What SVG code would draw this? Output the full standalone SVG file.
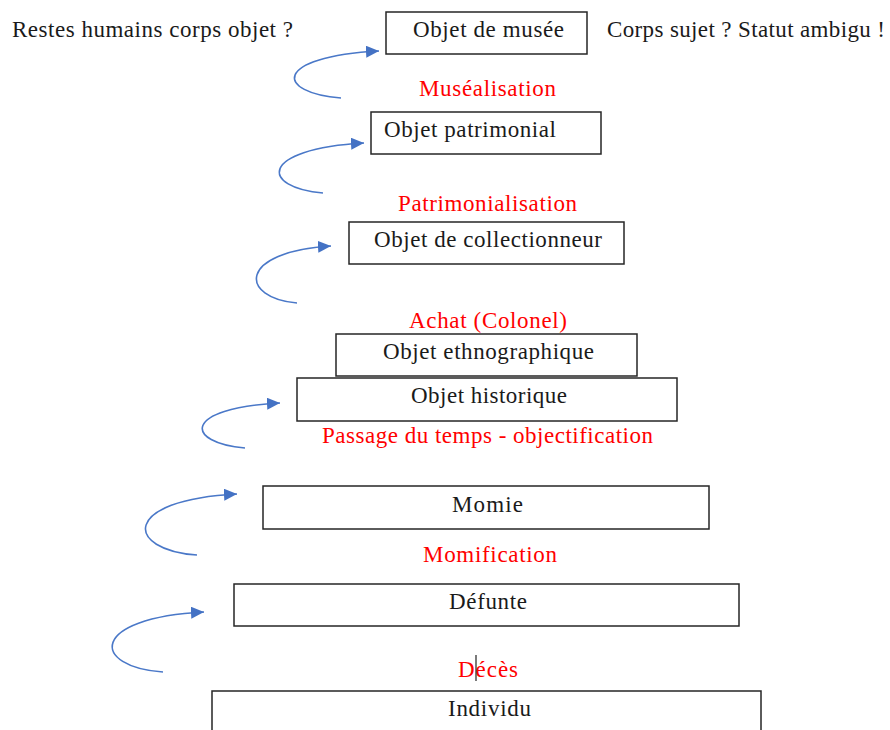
<svg xmlns="http://www.w3.org/2000/svg" width="890" height="730" viewBox="0 0 890 730">
<style>
.box{fill:#fff;stroke:#262626;stroke-width:1.5}
.t{font-family:"Liberation Serif","Times New Roman",serif;font-size:23px;fill:#1a1a1a}
.r{font-family:"Liberation Serif","Times New Roman",serif;font-size:23px;fill:#ff0000}
.arc{fill:none;stroke:#4a78c8;stroke-width:1.6;marker-end:url(#ah)}
</style>
<defs>
<marker id="ah" markerUnits="userSpaceOnUse" markerWidth="14" markerHeight="13" refX="13" refY="6" orient="auto">
<path d="M0,0 L13,6 L0,12 Z" fill="#4472c4"/>
</marker>
</defs>
<rect width="890" height="730" fill="#fff"/>

<g id="note-left"><text class="t" x="12" y="37" textLength="281" lengthAdjust="spacing">Restes humains corps objet ?</text></g>
<g id="note-right"><text class="t" x="607" y="37" textLength="278" lengthAdjust="spacing">Corps sujet ? Statut ambigu !</text></g>

<g id="objet-musee"><rect class="box" x="386" y="12" width="201" height="42"/><text class="t" x="413" y="37" textLength="151" lengthAdjust="spacing">Objet de musée</text></g>
<g id="objet-patrimonial"><rect class="box" x="371" y="112" width="230" height="42"/><text class="t" x="384" y="137" textLength="172" lengthAdjust="spacing">Objet patrimonial</text></g>
<g id="objet-collectionneur"><rect class="box" x="349" y="222" width="275" height="42"/><text class="t" x="374" y="247" textLength="228" lengthAdjust="spacing">Objet de collectionneur</text></g>
<g id="objet-ethnographique"><rect class="box" x="336" y="334" width="301" height="42"/><text class="t" x="383" y="359" textLength="211" lengthAdjust="spacing">Objet ethnographique</text></g>
<g id="objet-historique"><rect class="box" x="297" y="378" width="380" height="43"/><text class="t" x="411" y="403" textLength="156" lengthAdjust="spacing">Objet historique</text></g>
<g id="momie"><rect class="box" x="263" y="486" width="446" height="43"/><text class="t" x="452" y="512" textLength="71" lengthAdjust="spacing">Momie</text></g>
<g id="defunte"><rect class="box" x="234" y="584" width="505" height="42"/><text class="t" x="449" y="609" textLength="78" lengthAdjust="spacing">Défunte</text></g>
<g id="individu"><rect class="box" x="212" y="691" width="549" height="60"/><text class="t" x="448" y="716" textLength="83" lengthAdjust="spacing">Individu</text></g>

<g id="labels">
<text class="r" x="419" y="96" textLength="137" lengthAdjust="spacing">Muséalisation</text>
<text class="r" x="398" y="211" textLength="179" lengthAdjust="spacing">Patrimonialisation</text>
<text class="r" x="409" y="328" textLength="158" lengthAdjust="spacing">Achat (Colonel)</text>
<text class="r" x="322" y="443" textLength="331" lengthAdjust="spacing">Passage du temps - objectification</text>
<text class="r" x="423" y="562" textLength="134" lengthAdjust="spacing">Momification</text>
<text class="r" x="458" y="677" textLength="60" lengthAdjust="spacing">Décès</text>
<line x1="476" y1="655" x2="476" y2="681" stroke="#222" stroke-width="1.2"/>
</g>

<g id="connectors">
<path class="arc" d="M341,98 C276,93 271,57 379,51"/>
<path class="arc" d="M323,193 C261,188 257,149 364,143"/>
<path class="arc" d="M297,303 C240,298 236,252 331,246"/>
<path class="arc" d="M245,448 C185,443 181,408 280,403"/>
<path class="arc" d="M197,555 C125,550 120,500 237,494"/>
<path class="arc" d="M163,672 C91,667 88,618 204,612"/>
</g>
</svg>
